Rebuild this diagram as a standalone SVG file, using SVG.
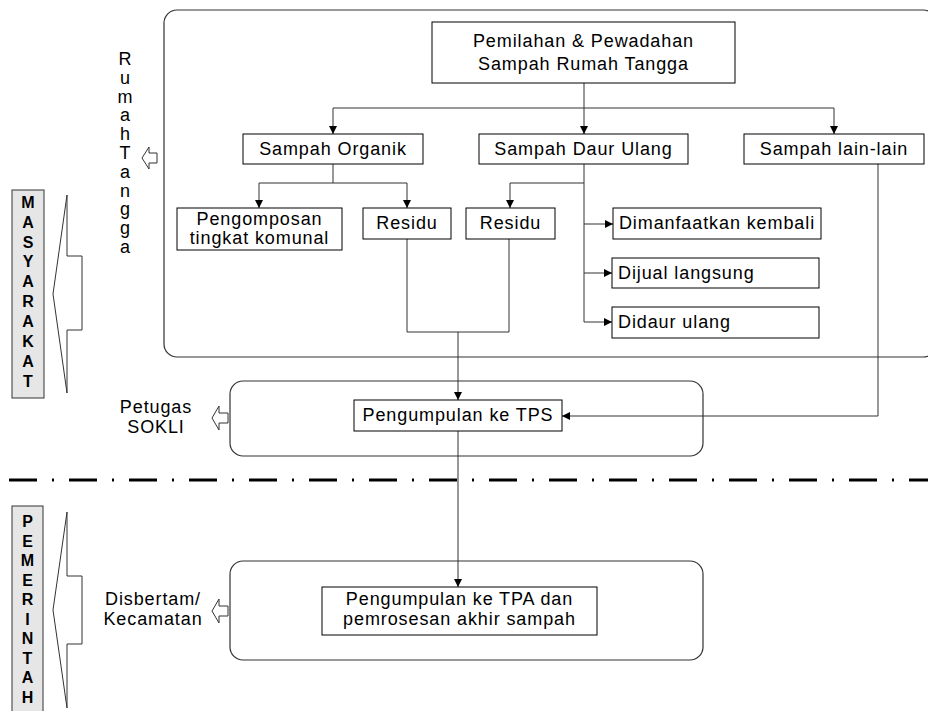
<svg xmlns="http://www.w3.org/2000/svg" width="928" height="711" viewBox="0 0 928 711">
<defs>
<style>
.t{font-family:"Liberation Sans",Arial,sans-serif;font-size:18px;letter-spacing:0.9px;fill:#000}
.c{text-anchor:middle}
.v{font-family:"Liberation Sans",Arial,sans-serif;font-size:18px;fill:#000;text-anchor:middle}
.b{font-family:"Liberation Sans",Arial,sans-serif;font-size:16px;font-weight:bold;fill:#000;text-anchor:middle}
.box{fill:#fff;stroke:#000;stroke-width:1}
.grp{fill:none;stroke:#333;stroke-width:1.2}
.ln{fill:none;stroke:#333;stroke-width:1}
.ha{fill:#fff;stroke:#333;stroke-width:1}
.lab{fill:#e6e6e6;stroke:#333;stroke-width:1}
</style>
<marker id="ah" viewBox="0 0 10 10" refX="10" refY="5" markerWidth="9" markerHeight="8" markerUnits="userSpaceOnUse" orient="auto">
<path d="M0,0 L10,5 L0,10 Z" fill="#000"/>
</marker>
</defs>
<rect width="928" height="711" fill="#fff"/>

<g id="household-area"><rect class="grp" x="164" y="10" width="772" height="347" rx="13"/></g>
<g id="sokli-area"><rect class="grp" x="230" y="381" width="473" height="75" rx="13"/></g>
<g id="gov-area"><rect class="grp" x="230" y="561" width="473" height="99" rx="13"/></g>

<g id="divider"><line x1="9" y1="480" x2="928" y2="480" stroke="#000" stroke-width="3" stroke-dasharray="28 15 2 15"/></g>

<g id="connectors">
<path class="ln" d="M584,83 V134" marker-end="url(#ah)"/>
<path class="ln" d="M333,108 H834"/>
<path class="ln" d="M333,108 V134" marker-end="url(#ah)"/>
<path class="ln" d="M834,108 V134" marker-end="url(#ah)"/>
<path class="ln" d="M333,164 V183"/>
<path class="ln" d="M259,183 H407"/>
<path class="ln" d="M259,183 V208" marker-end="url(#ah)"/>
<path class="ln" d="M407,183 V208" marker-end="url(#ah)"/>
<path class="ln" d="M584,164 V322"/>
<path class="ln" d="M584,183 H510 V208" marker-end="url(#ah)"/>
<path class="ln" d="M584,224 H613" marker-end="url(#ah)"/>
<path class="ln" d="M584,273 H612" marker-end="url(#ah)"/>
<path class="ln" d="M584,322 H612" marker-end="url(#ah)"/>
<path class="ln" d="M407,239 V332 H509 V239"/>
<path class="ln" d="M458,332 V400" marker-end="url(#ah)"/>
<path class="ln" d="M878,164 V416 H562" marker-end="url(#ah)"/>
<path class="ln" d="M458,431 V587" marker-end="url(#ah)"/>
</g>

<g id="pemilahan"><rect class="box" x="432" y="22" width="303" height="61"/>
<text class="t c" x="583.5" y="47">Pemilahan &amp; Pewadahan</text>
<text class="t c" x="583.5" y="70">Sampah Rumah Tangga</text></g>

<g id="organik"><rect class="box" x="243" y="134" width="180" height="30"/>
<text class="t c" x="333" y="155">Sampah Organik</text></g>

<g id="daur-ulang"><rect class="box" x="479" y="134" width="209" height="30"/>
<text class="t c" x="583.5" y="155">Sampah Daur Ulang</text></g>

<g id="lain-lain"><rect class="box" x="744" y="134" width="180" height="30"/>
<text class="t c" x="834" y="155">Sampah lain-lain</text></g>

<g id="pengomposan"><rect class="box" x="177" y="208" width="165" height="42"/>
<text class="t c" x="259.5" y="225">Pengomposan</text>
<text class="t c" x="259.5" y="244">tingkat komunal</text></g>

<g id="residu1"><rect class="box" x="363" y="208" width="88" height="31"/>
<text class="t c" x="407" y="229">Residu</text></g>

<g id="residu2"><rect class="box" x="466" y="208" width="89" height="31"/>
<text class="t c" x="510.5" y="229">Residu</text></g>

<g id="dimanfaatkan"><rect class="box" x="613" y="208" width="208" height="31"/>
<text class="t c" x="717" y="229">Dimanfaatkan kembali</text></g>

<g id="dijual"><rect class="box" x="612" y="258" width="207" height="30"/>
<text class="t" x="618" y="279">Dijual langsung</text></g>

<g id="didaur"><rect class="box" x="612" y="307" width="207" height="31"/>
<text class="t" x="618" y="328">Didaur ulang</text></g>

<g id="tps"><rect class="box" x="354" y="400" width="208" height="31"/>
<text class="t c" x="458" y="421">Pengumpulan ke TPS</text></g>

<g id="tpa"><rect class="box" x="322" y="587" width="275" height="48"/>
<text class="t c" x="459.5" y="605">Pengumpulan ke TPA dan</text>
<text class="t c" x="459.5" y="625">pemrosesan akhir sampah</text></g>

<g id="rumah-tangga-label">
<text class="v" x="125" y="65">R</text>
<text class="v" x="125" y="83.8">u</text>
<text class="v" x="125" y="102.6">m</text>
<text class="v" x="125" y="121.4">a</text>
<text class="v" x="125" y="140.2">h</text>
<text class="v" x="125" y="159">T</text>
<text class="v" x="125" y="177.8">a</text>
<text class="v" x="125" y="196.6">n</text>
<text class="v" x="125" y="215.4">g</text>
<text class="v" x="125" y="234.2">g</text>
<text class="v" x="125" y="253">a</text>
<polygon class="ha" points="142,158 149,147 149,153 157,153 157,163 149,163 149,169"/>
</g>

<g id="petugas-label">
<text class="t c" x="156" y="413">Petugas</text>
<text class="t c" x="156" y="433">SOKLI</text>
<polygon class="ha" points="212,418 219,406 219,413 228,413 228,423 219,423 219,430"/>
</g>

<g id="disbertam-label">
<text class="t c" x="153" y="605">Disbertam/</text>
<text class="t c" x="153" y="625">Kecamatan</text>
<polygon class="ha" points="212,611 219,599 219,606 228,606 228,616 219,616 219,623"/>
</g>

<g id="masyarakat">
<rect class="lab" x="12" y="190" width="32" height="208"/>
<text class="b" x="28" y="208">M</text>
<text class="b" x="28" y="228">A</text>
<text class="b" x="28" y="248">S</text>
<text class="b" x="28" y="267">Y</text>
<text class="b" x="28" y="287">A</text>
<text class="b" x="28" y="307">R</text>
<text class="b" x="28" y="327">A</text>
<text class="b" x="28" y="347">K</text>
<text class="b" x="28" y="367">A</text>
<text class="b" x="28" y="387">T</text>
<polygon class="ha" points="53,294 67,195 67,256 82,256 82,330 67,330 67,393"/>
</g>

<g id="pemerintah">
<rect class="lab" x="12" y="506" width="31" height="210"/>
<text class="b" x="27.5" y="527">P</text>
<text class="b" x="27.5" y="546.5">E</text>
<text class="b" x="27.5" y="566">M</text>
<text class="b" x="27.5" y="585.5">E</text>
<text class="b" x="27.5" y="605">R</text>
<text class="b" x="27.5" y="624.5">I</text>
<text class="b" x="27.5" y="644">N</text>
<text class="b" x="27.5" y="663.5">T</text>
<text class="b" x="27.5" y="683">A</text>
<text class="b" x="27.5" y="702.5">H</text>
<polygon class="ha" points="53,610 67,512 67,576 82,576 82,644 67,644 67,708"/>
</g>
</svg>
